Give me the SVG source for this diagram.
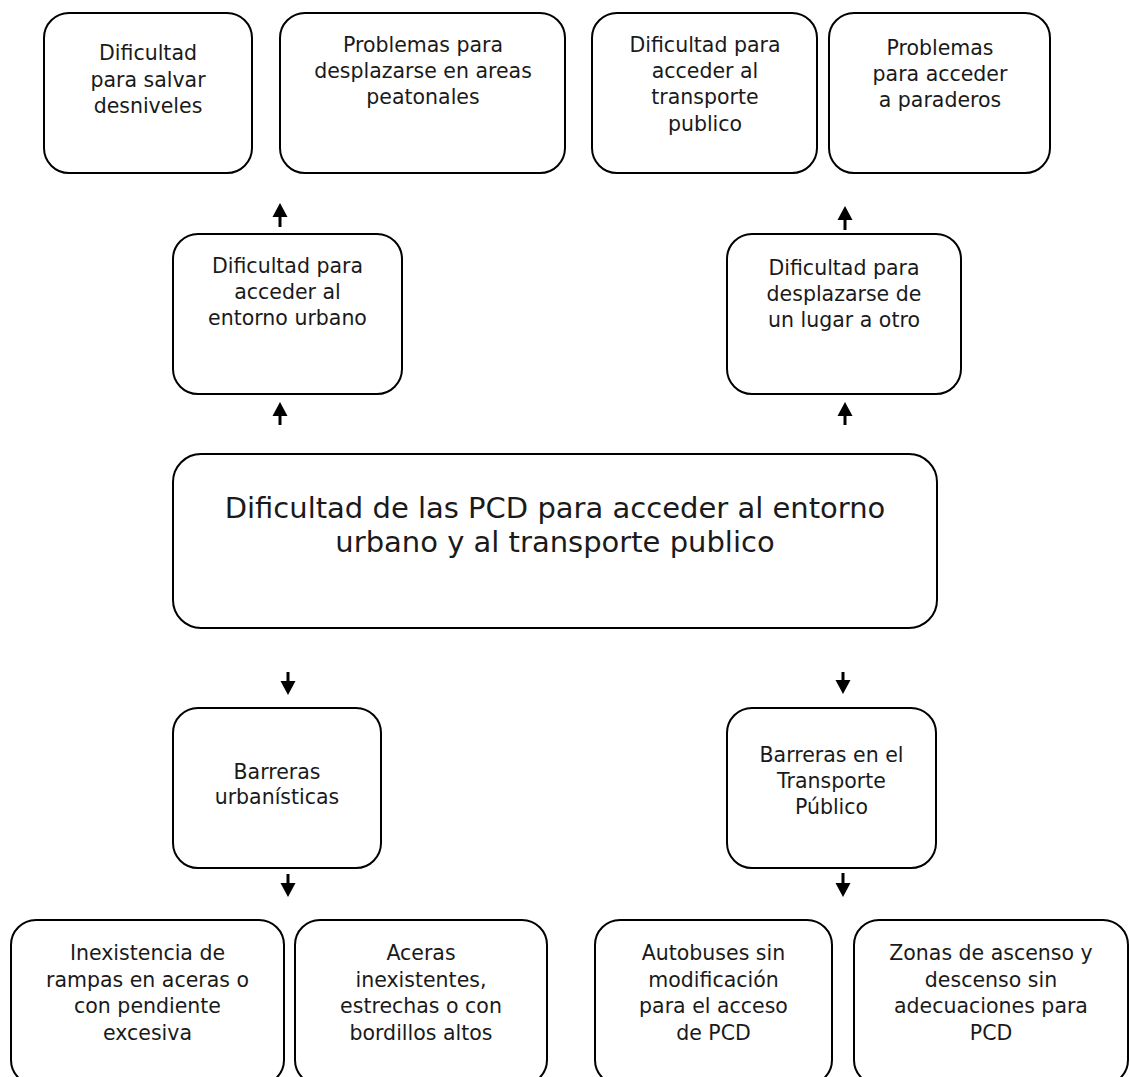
<svg xmlns="http://www.w3.org/2000/svg" width="1130" height="1077" viewBox="0 0 1130 1077">
<style>
  .box { fill: #ffffff; stroke: #000000; stroke-width: 2; }
  .t { font-family: "DejaVu Sans", "Liberation Sans", sans-serif; font-size: 20.5px; fill: #1a1a1a; text-anchor: middle; }
  .big { font-family: "DejaVu Sans", "Liberation Sans", sans-serif; font-size: 29px; fill: #1a1a1a; text-anchor: middle; }
  .shaft { stroke: #000000; stroke-width: 3; fill: none; }
  .head { fill: #000000; stroke: none; }
</style>
<rect x="0" y="0" width="1130" height="1077" fill="#ffffff"/>

<g id="n1">
  <rect class="box" x="44" y="13" width="208" height="160" rx="25" ry="25"/>
  <text class="t" x="148" y="60">Dificultad</text>
  <text class="t" x="148" y="87">para salvar</text>
  <text class="t" x="148" y="113">desniveles</text>
</g>
<g id="n2">
  <rect class="box" x="280" y="13" width="285" height="160" rx="25" ry="25"/>
  <text class="t" x="423" y="52">Problemas para</text>
  <text class="t" x="423" y="78">desplazarse en areas</text>
  <text class="t" x="423" y="104">peatonales</text>
</g>
<g id="n3">
  <rect class="box" x="592" y="13" width="225" height="160" rx="25" ry="25"/>
  <text class="t" x="705" y="52">Dificultad para</text>
  <text class="t" x="705" y="78">acceder al</text>
  <text class="t" x="705" y="104">transporte</text>
  <text class="t" x="705" y="131">publico</text>
</g>
<g id="n4">
  <rect class="box" x="829" y="13" width="221" height="160" rx="25" ry="25"/>
  <text class="t" x="940" y="55">Problemas</text>
  <text class="t" x="940" y="81">para acceder</text>
  <text class="t" x="940" y="107">a paraderos</text>
</g>
<g id="n5">
  <rect class="box" x="173" y="234" width="229" height="160" rx="25" ry="25"/>
  <text class="t" x="287.5" y="273">Dificultad para</text>
  <text class="t" x="287.5" y="299">acceder al</text>
  <text class="t" x="287.5" y="325">entorno urbano</text>
</g>
<g id="n6">
  <rect class="box" x="727" y="234" width="234" height="160" rx="25" ry="25"/>
  <text class="t" x="844" y="275">Dificultad para</text>
  <text class="t" x="844" y="301">desplazarse de</text>
  <text class="t" x="844" y="327">un lugar a otro</text>
</g>
<g id="n7">
  <rect class="box" x="173" y="454" width="764" height="174" rx="28" ry="28"/>
  <text class="big" x="555" y="518">Dificultad de las PCD para acceder al entorno</text>
  <text class="big" x="555" y="552">urbano y al transporte publico</text>
</g>
<g id="n8">
  <rect class="box" x="173" y="708" width="208" height="160" rx="25" ry="25"/>
  <text class="t" x="277" y="779">Barreras</text>
  <text class="t" x="277" y="804">urbanísticas</text>
</g>
<g id="n9">
  <rect class="box" x="727" y="708" width="209" height="160" rx="25" ry="25"/>
  <text class="t" x="831.5" y="762">Barreras en el</text>
  <text class="t" x="831.5" y="788">Transporte</text>
  <text class="t" x="831.5" y="814">Público</text>
</g>
<g id="n10">
  <rect class="box" x="11" y="920" width="273" height="165" rx="25" ry="25"/>
  <text class="t" x="147.5" y="960">Inexistencia de</text>
  <text class="t" x="147.5" y="987">rampas en aceras o</text>
  <text class="t" x="147.5" y="1013">con pendiente</text>
  <text class="t" x="147.5" y="1040">excesiva</text>
</g>
<g id="n11">
  <rect class="box" x="295" y="920" width="252" height="165" rx="25" ry="25"/>
  <text class="t" x="421" y="960">Aceras</text>
  <text class="t" x="421" y="987">inexistentes,</text>
  <text class="t" x="421" y="1013">estrechas o con</text>
  <text class="t" x="421" y="1040">bordillos altos</text>
</g>
<g id="n12">
  <rect class="box" x="595" y="920" width="237" height="165" rx="25" ry="25"/>
  <text class="t" x="713.5" y="960">Autobuses sin</text>
  <text class="t" x="713.5" y="987">modificación</text>
  <text class="t" x="713.5" y="1013">para el acceso</text>
  <text class="t" x="713.5" y="1040">de PCD</text>
</g>
<g id="n13">
  <rect class="box" x="854" y="920" width="274" height="165" rx="25" ry="25"/>
  <text class="t" x="991" y="960">Zonas de ascenso y</text>
  <text class="t" x="991" y="987">descenso sin</text>
  <text class="t" x="991" y="1013">adecuaciones para</text>
  <text class="t" x="991" y="1040">PCD</text>
</g>

<g id="connectors">
  <!-- up arrows -->
  <line class="shaft" x1="280" y1="227" x2="280" y2="215"/>
  <polygon class="head" points="280,203 272.5,217 287.5,217"/>
  <line class="shaft" x1="845" y1="230" x2="845" y2="218"/>
  <polygon class="head" points="845,206 837.5,220 852.5,220"/>
  <line class="shaft" x1="280" y1="425" x2="280" y2="413"/>
  <polygon class="head" points="280,402 272.5,416 287.5,416"/>
  <line class="shaft" x1="845" y1="425" x2="845" y2="413"/>
  <polygon class="head" points="845,402 837.5,416 852.5,416"/>
  <!-- down arrows -->
  <line class="shaft" x1="288" y1="672" x2="288" y2="684"/>
  <polygon class="head" points="288,695 280.5,681 295.5,681"/>
  <line class="shaft" x1="843" y1="672" x2="843" y2="684"/>
  <polygon class="head" points="843,694 835.5,680 850.5,680"/>
  <line class="shaft" x1="288" y1="874" x2="288" y2="886"/>
  <polygon class="head" points="288,897 280.5,883 295.5,883"/>
  <line class="shaft" x1="843" y1="873" x2="843" y2="885"/>
  <polygon class="head" points="843,897 835.5,883 850.5,883"/>
</g>
</svg>
